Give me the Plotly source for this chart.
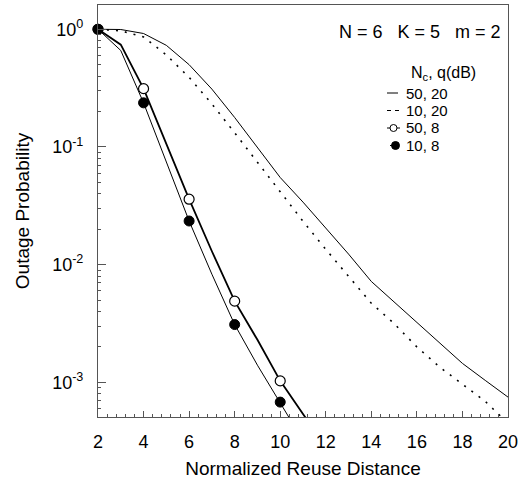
import plotly.graph_objects as go

# ---------------- data ----------------
x_20 = list(range(2, 21))
p_50_20 = [1.0, 0.995, 0.92, 0.73, 0.50, 0.31, 0.178, 0.098, 0.055, 0.034, 0.0205,
           0.0123, 0.0072, 0.0048, 0.0032, 0.00215, 0.00145, 0.00104, 0.00075]
p_10_20 = [1.0, 0.97, 0.86, 0.605, 0.39, 0.232, 0.132, 0.074, 0.0414, 0.0234, 0.0135,
           0.0079, 0.0047, 0.00316, 0.0020, 0.00135, 0.00096, 0.00069, 0.00045]

x_50_8 = list(range(2, 13))
p_50_8 = [1.0, 0.74, 0.313, 0.107, 0.036, 0.0130, 0.0049, 0.0023, 0.00103, 0.00054, 0.00028]
x_10_8 = list(range(2, 12))
p_10_8 = [1.0, 0.66, 0.237, 0.075, 0.0235, 0.0083, 0.0031, 0.0014, 0.00068, 0.00032]

marker_x = [2, 4, 6, 8, 10]

legend_names = ["50, 20", "10, 20", "50, 8", "10, 8"]
legend_title = "N<sub>c</sub>, q(dB)"
params_text = "N = 6   K = 5   m = 2"

x_tickvals = [2, 4, 6, 8, 10, 12, 14, 16, 18, 20]
y_tickvals = [1, 0.1, 0.01, 0.001]
y_ticktext = ["10<sup>0</sup>", "10<sup>-1</sup>", "10<sup>-2</sup>", "10<sup>-3</sup>"]
x_title = "Normalized Reuse Distance"
y_title = "Outage Probability"

FONT = "Liberation Sans, Arial, Helvetica, sans-serif"
BLACK = "#000000"
AXC = "#555555"

# plot-area pixel geometry (for placing the hand-drawn legend in paper units)
PX_L, PX_R, PX_T, PX_B = 98, 508, 5, 417


def px(xp):
    return (xp - PX_L) / (PX_R - PX_L)


def py(yp):
    return (PX_B - yp) / (PX_B - PX_T)


fig = go.Figure()

# curves
fig.add_trace(go.Scatter(x=x_20, y=p_50_20, mode="lines", name=legend_names[0], showlegend=False,
                         line=dict(color=BLACK, width=1)))
fig.add_trace(go.Scatter(x=x_20, y=p_10_20, mode="lines", name=legend_names[1], showlegend=False,
                         line=dict(color=BLACK, width=1.6, dash="2px,7px")))
fig.add_trace(go.Scatter(x=x_50_8, y=p_50_8, mode="lines", name=legend_names[2], showlegend=False,
                         line=dict(color=BLACK, width=1.8)))
fig.add_trace(go.Scatter(x=x_10_8, y=p_10_8, mode="lines", name=legend_names[3], showlegend=False,
                         line=dict(color=BLACK, width=1)))

# markers
mo_x = [x for x in x_50_8 if x in marker_x]
mo_y = [p for x, p in zip(x_50_8, p_50_8) if x in marker_x]
mf_x = [x for x in x_10_8 if x in marker_x]
mf_y = [p for x, p in zip(x_10_8, p_10_8) if x in marker_x]
fig.add_trace(go.Scatter(x=mo_x, y=mo_y, mode="markers", name=legend_names[2], showlegend=False,
                         cliponaxis=False,
                         marker=dict(symbol="circle", size=10, color="white",
                                     line=dict(color=BLACK, width=1.2))))
fig.add_trace(go.Scatter(x=mf_x, y=mf_y, mode="markers", name=legend_names[3], showlegend=False,
                         cliponaxis=False,
                         marker=dict(symbol="circle", size=10, color=BLACK,
                                     line=dict(color=BLACK, width=1))))

axis_common = dict(showline=True, linecolor=AXC, linewidth=1, mirror=True,
                   showgrid=False, zeroline=False, ticks="inside", tickcolor=AXC)

fig.update_xaxes(range=[2, 20], tickvals=x_tickvals, ticklen=6, tickwidth=1,
                 ticklabelstandoff=8,
                 tickfont=dict(family=FONT, size=18, color=BLACK),
                 minor=dict(ticks="inside", dtick=0.4, tick0=2, ticklen=3, tickcolor=AXC),
                 title=dict(text=x_title, font=dict(family=FONT, size=19, color=BLACK), standoff=11),
                 **axis_common)
minor_y = [k * 10.0 ** e for e in range(-4, 1) for k in range(2, 10)]
# trailing no-break spaces keep the labels clear of the axis line, as in the reference
y_ticktext_padded = [t + "\u00a0\u00a0" for t in y_ticktext]
fig.update_yaxes(type="log", range=[-3.294, 0.206], tickvals=y_tickvals, ticktext=y_ticktext_padded,
                 ticklen=8, tickwidth=1,
                 tickfont=dict(family=FONT, size=18, color=BLACK),
                 minor=dict(ticks="inside", tickvals=minor_y, ticklen=3, tickcolor=AXC),
                 title=dict(text=y_title, font=dict(family=FONT, size=19, color=BLACK), standoff=17),
                 **axis_common)

# parameter label
fig.add_annotation(text=params_text, xref="paper", yref="paper", x=px(503), y=py(32),
                   xanchor="right", yanchor="middle", showarrow=False,
                   font=dict(family=FONT, size=18, color=BLACK))

# hand-drawn legend (compact, as in the reference)
LEG_FONT = dict(family=FONT, size=15, color=BLACK)
fig.add_annotation(text=legend_title, xref="paper", yref="paper", x=px(409), y=py(73),
                   xanchor="left", yanchor="middle", showarrow=False,
                   font=dict(family=FONT, size=16, color=BLACK))
row_y = [93, 110.5, 128, 145.5]
for name, yy in zip(legend_names, row_y):
    fig.add_annotation(text=name, xref="paper", yref="paper", x=px(404), y=py(yy),
                       xanchor="left", yanchor="middle", showarrow=False, font=LEG_FONT)

fig.add_shape(type="line", xref="paper", yref="paper", x0=px(387), x1=px(398),
              y0=py(row_y[0]), y1=py(row_y[0]), line=dict(color=BLACK, width=1))
fig.add_shape(type="line", xref="paper", yref="paper", x0=px(387), x1=px(399),
              y0=py(row_y[1]), y1=py(row_y[1]), line=dict(color=BLACK, width=1.2, dash="4px,4px"))
fig.add_shape(type="line", xref="paper", yref="paper", x0=px(387), x1=px(400),
              y0=py(row_y[2]), y1=py(row_y[2]), line=dict(color=BLACK, width=1))
fig.add_shape(type="circle", xref="paper", yref="paper", x0=px(390), x1=px(397),
              y0=py(row_y[2] - 3.5), y1=py(row_y[2] + 3.5),
              fillcolor="white", line=dict(color=BLACK, width=1))
fig.add_shape(type="line", xref="paper", yref="paper", x0=px(390), x1=px(395),
              y0=py(row_y[3]), y1=py(row_y[3]), line=dict(color=BLACK, width=1))
fig.add_shape(type="circle", xref="paper", yref="paper", x0=px(391.5), x1=px(399.5),
              y0=py(row_y[3] - 4), y1=py(row_y[3] + 4),
              fillcolor=BLACK, line=dict(color=BLACK, width=1))

fig.update_layout(
    width=524, height=487,
    margin=dict(l=PX_L, r=524 - PX_R, t=PX_T, b=487 - PX_B),
    paper_bgcolor="white", plot_bgcolor="white",
    font=dict(family=FONT, color=BLACK),
    showlegend=False,
)

fig.write_html("out.html", config={"displayModeBar": False},
               post_script="document.body.style.margin='0';document.body.style.overflow='hidden';")
